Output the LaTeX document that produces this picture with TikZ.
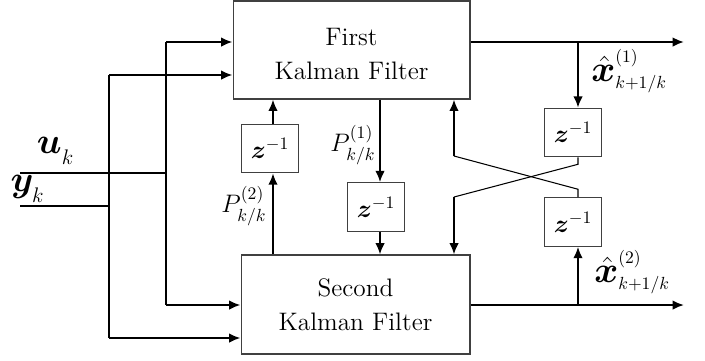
\documentclass[tikz,border=0pt]{standalone}
\usepackage{amsmath}
\usepackage{bm}
\usetikzlibrary{arrows.meta}
\tikzset{
	filter/.style = {shape=rectangle, draw=black!75, line width=0.6pt,
		align=center, font=\Large, inner sep=0pt},
	delay/.style  = {shape=rectangle, draw=black!75, line width=0.6pt,
		font=\Large, inner sep=0pt, minimum width=1.14cm, minimum height=0.97cm},
	sig/.style    = {draw, line width=1.2pt, -{Latex[length=6.5pt,width=5.5pt]}},
	wire/.style   = {draw, line width=0.6pt},
	lbl/.style    = {font=\Large, inner sep=0pt},
	big/.style    = {font=\huge, inner sep=0pt}
}
\newcommand{\estlbl}[1]{$\text{\huge$\hat{\bm{x}}$}^{(#1)}_{k+1/k}$}

\begin{document}
\begin{tikzpicture}
		[
		x = 0.02cm,
		y = -0.02cm
		]
		\useasboundingbox (0,0) rectangle (705,360);

		% the two filters
		\node [filter, minimum width=4.74cm, minimum height=1.96cm] (first) at (351.5,50)
			{\rule{0pt}{14.5pt}First\\[1.5pt] Kalman Filter};
		\node [filter, minimum width=4.58cm, minimum height=1.98cm] (second) at (355.5,304.5)
			{Second\\[1.5pt] Kalman Filter};

		% the delays
		\node [delay] (dl) at (270,148.5) {$\bm{z}^{-1}$};
		\node [delay] (dm) at (376,207) {$\bm{z}^{-1}$};
		\node [delay] (du) at (573,132.5) {$\bm{z}^{-1}$};
		\node [delay] (dd) at (573,222) {$\bm{z}^{-1}$};

		% inputs
		\coordinate (uin) at (20,173);
		\coordinate (yin) at (20,206);
		\coordinate (u1) at (166,42);
		\coordinate (u2) at (166,305);
		\coordinate (y1) at (109,75);
		\coordinate (y2) at (109,338);
		\node [big] (ulbl) at (56,151) {$\bm{u}_{_{k}}$};
		\node [big] (ylbl) at (28,189) {$\bm{y}_{_{k}}$};

		\draw [wire] (uin) -- (uin -| u1);
		\draw [wire] (yin) -- (yin -| y1);
		\draw [wire] (u1) -- (u2);
		\draw [wire] (y1) -- (y2);
		\draw [sig] (u1) -- (u1 -| first.west);
		\draw [sig] (y1) -- (y1 -| first.west);
		\draw [sig] (u2) -- (u2 -| second.west);
		\draw [sig] (y2) -- (y2 -| second.west);

		% covariance exchange
		\coordinate (pl) at (273,0);
		\coordinate (pm) at (380,0);
		\draw [sig] (second.north -| pl) -- (dl.south -| pl);
		\draw [sig] (dl.north -| pl) -- (first.south -| pl);
		\draw [sig] (first.south -| pm) -- (dm.north -| pm);
		\draw [sig] (dm.south -| pm) -- (second.north -| pm);
		\node [lbl] (p2) at (244,206) {$P^{(2)}_{k/k}$};
		\node [lbl] (p1) at (353,145) {$P^{(1)}_{k/k}$};

		% outputs
		\coordinate (out1) at (684,42);
		\coordinate (out2) at (684,305);
		\coordinate (b1) at (578,42);
		\coordinate (b2) at (578,305);
		\draw [sig] (out1 -| first.east) -- (out1);
		\draw [sig] (out2 -| second.east) -- (out2);
		\draw [sig] (b1) -- (b1 |- du.north);
		\draw [sig] (b2) -- (b2 |- dd.south);
		\node [lbl, anchor=west] (x1) at (591,71) {\estlbl{1}};
		\node [lbl, anchor=west] (x2) at (594,272) {\estlbl{2}};

		% crossed state feedback
		\coordinate (c1) at (454,156);
		\coordinate (c2) at (454,197);
		\draw [wire] (b1 |- du.south) -- ++(0,7) -- (c2);
		\draw [wire] (b2 |- dd.north) -- ++(0,-8) -- (c1);
		\draw [sig] (c1) -- (c1 |- first.south);
		\draw [sig] (c2) -- (c2 |- second.north);
	\end{tikzpicture}
\end{document}
